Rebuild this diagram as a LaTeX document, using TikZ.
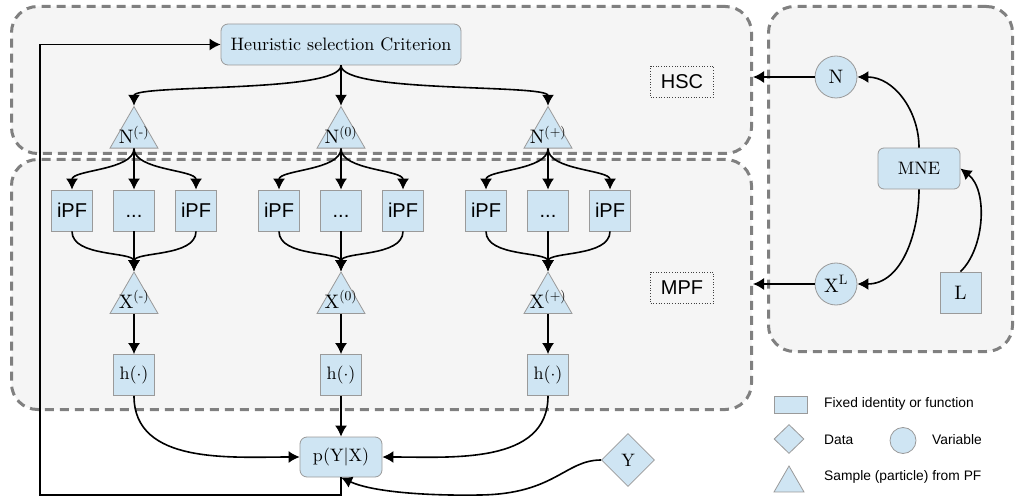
\documentclass[tikz,border=0pt]{standalone}
\usepackage{fontspec}
\newfontfamily\sansf{Liberation Sans}
\newfontfamily\cmten{lmroman10-regular}[Extension=.otf]
\usetikzlibrary{shapes.geometric, arrows.meta}
\definecolor{boxfill}{HTML}{CFE5F3}
\definecolor{boxdraw}{HTML}{9A9A9A}
\definecolor{regfill}{HTML}{F5F5F5}
\definecolor{regdraw}{HTML}{808080}
\begin{document}
\begin{tikzpicture}[x=1pt,y=-1pt,
 region/.style={draw=regdraw, fill=regfill, line width=3pt, dash pattern=on 9pt off 6pt, rounded corners=26pt, inner sep=0pt},
 fnbox/.style={draw=boxdraw, fill=boxfill, line width=0.8pt, minimum width=41pt, minimum height=41pt, inner sep=0pt},
 tri/.style={draw=boxdraw, fill=boxfill, line width=0.8pt, regular polygon, regular polygon sides=3, minimum size=55.4pt, inner sep=0pt},
 varc/.style={draw=boxdraw, fill=boxfill, line width=0.8pt, circle, minimum size=42pt, inner sep=0pt},
 dia/.style={draw=boxdraw, fill=boxfill, line width=0.8pt, diamond, minimum width=53pt, minimum height=53pt, inner sep=0pt},
 serif/.style={font=\cmten\fontsize{18}{21}\selectfont},
 serifb/.style={font=\cmten\fontsize{19.5}{23}\selectfont},
 sans/.style={font=\sansf\fontsize{20}{24}\selectfont},
 tagbox/.style={draw=black!75, dotted, line width=0.7pt, minimum width=63pt, minimum height=31pt, inner sep=0pt, font=\sansf\fontsize{20}{24}\selectfont},
 arr/.style={-{Latex[length=11pt,width=12pt]}, line width=1.6pt},
 legtext/.style={font=\sansf\fontsize{13.8}{16}\selectfont, anchor=west, inner sep=0pt}
]
\useasboundingbox (0,0) rectangle (1015,497);
% regions
\node[region, minimum width=740pt, minimum height=147pt, anchor=north west] (hscR) at (10,5) {};
\node[region, minimum width=740pt, minimum height=250pt, anchor=north west] (mpfR) at (10,158) {};
\node[region, minimum width=244pt, minimum height=345pt, anchor=north west] (mneR) at (767,5) {};
\node[tagbox] (hsctag) at (682,81.5) {HSC};
\node[tagbox] (mpftag) at (682,287.5) {MPF};

% main nodes
\node[fnbox, rounded corners=7pt, minimum width=240pt, serif] (hsc) at (341,44.5) {Heuristic selection Criterion};
\node[fnbox, rounded corners=7pt, minimum width=82pt, minimum height=40pt, serif] (p) at (341,457) {p(Y|X)};
\node[dia, serif] (Y) at (628,460) {Y};

\foreach \g/\x/\s in {m/134/-, z/341/0, p/548/+} {
  \node[tri] (N\g) at (\x,134.3) {};
  \node[serifb, anchor=base, inner sep=0pt] (Nt\g) at (\x,144) {N\textsuperscript{(\s)}};
  \node[fnbox, sans] (\g1) at (\x-62,210.5) {iPF};
  \node[fnbox, sans] (\g2) at (\x,210.5) {\vphantom{iPF}...};
  \node[fnbox, sans] (\g3) at (\x+62,210.5) {iPF};
  \node[tri] (X\g) at (\x,299.7) {};
  \node[serifb, anchor=base, inner sep=0pt] (Xt\g) at (\x,308.5) {X\textsuperscript{(\s)}};
  \node[fnbox, serif] (h\g) at (\x,375) {h($\cdot$)};
  \draw[arr] (hsc.south) .. controls +(0,28) and +(0,-22) .. (N\g.north);
  \draw[arr] (N\g.south) .. controls +(0,22) and +(0,-20) .. (\g1.north);
  \draw[arr] (N\g.south) -- (\g2.north);
  \draw[arr] (N\g.south) .. controls +(0,22) and +(0,-20) .. (\g3.north);
  \draw[arr] (\g1.south) .. controls +(0,26) and +(0,-20) .. (X\g.north);
  \draw[arr] (\g2.south) -- (X\g.north);
  \draw[arr] (\g3.south) .. controls +(0,26) and +(0,-20) .. (X\g.north);
  \draw[arr] (X\g.south) -- (h\g.north);
}
\draw[arr] (hm.south) to[out=-90,in=180] (p.west);
\draw[arr] (hz.south) -- (p.north);
\draw[arr] (hp.south) to[out=-90,in=0] (p.east);
\draw[arr] (Y.west) .. controls (565,460) and (555,494) .. (480,495) .. controls (420,496) and (370,491) .. (p.south);
\draw[arr] (p.south) |- (40,495) |- (hsc.west);

% right part
\node[varc, serifb] (N) at (836,77) {N};
\node[fnbox, rounded corners=6pt, minimum width=82pt, serif] (mne) at (919,168.5) {MNE};
\node[varc, serifb] (XL) at (836,284) {X\textsuperscript{L}};
\node[fnbox, serifb] (L) at (960.5,292.5) {L};
\draw[arr] (N.west) -- (N.west -| hscR.east);
\draw[arr] (XL.west) -- (XL.west -| mpfR.east);
\draw[arr] (mne.north) to[out=90,in=0] (N.east);
\draw[arr] (mne.south) to[out=-90,in=0] (XL.east);
\draw[arr] (L.north) .. controls (985,248) and (988,190) .. (mne.east);

% legend
\node[fnbox, minimum width=33pt, minimum height=17pt] (lgbox) at (791,404.5) {};
\node[legtext] (lgboxt) at (824,404) {Fixed identity or function};
\node[dia, minimum width=30pt, minimum height=29pt] (lgdia) at (789,439) {};
\node[legtext] (lgdiat) at (824,440) {Data};
\node[varc, minimum size=26pt] (lgvar) at (903,440.5) {};
\node[legtext] (lgvart) at (932,440) {Variable};
\node[tri, minimum size=34.6pt] (lgtri) at (789,483.3) {};
\node[legtext] (lgtrit) at (824,477) {Sample (particle) from PF};
\end{tikzpicture}
\end{document}
